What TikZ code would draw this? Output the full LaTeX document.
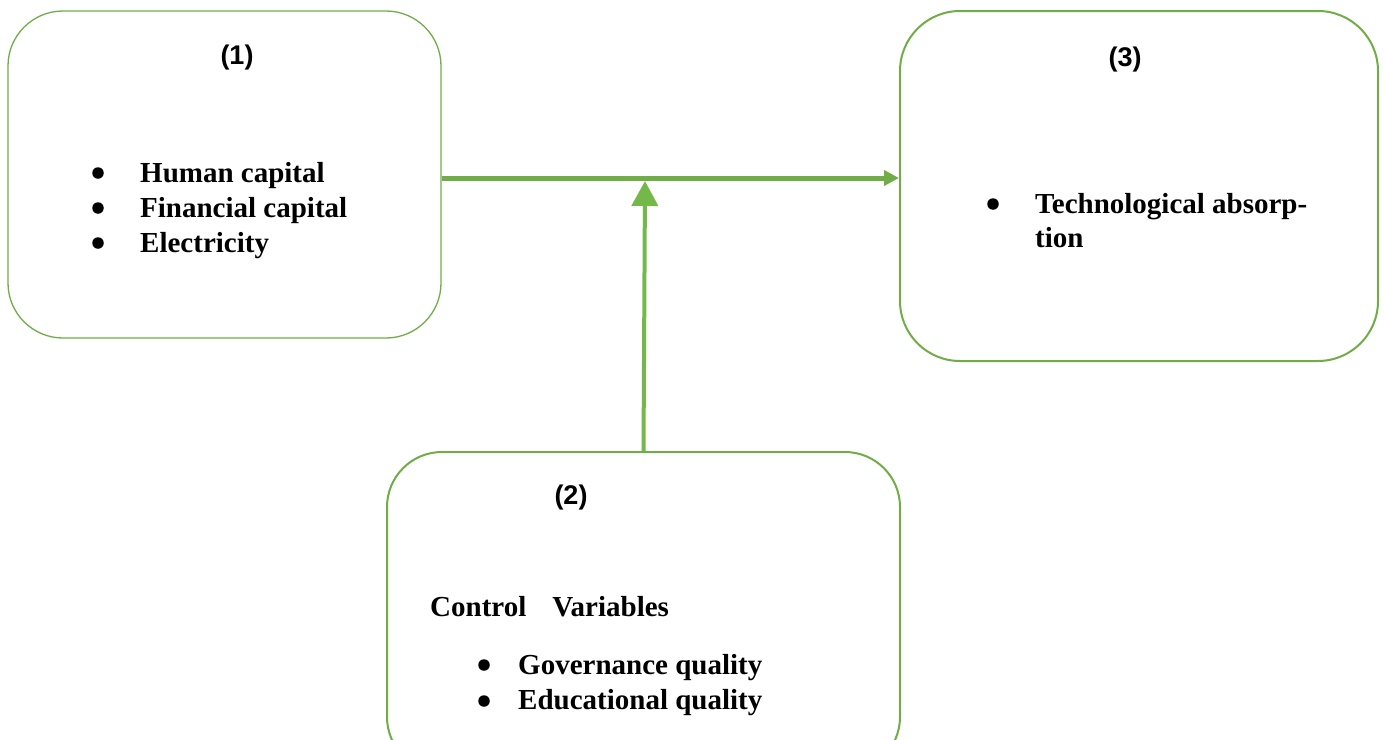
\documentclass[tikz,border=0pt]{standalone}
\usepackage{fontspec}
\setmainfont{Liberation Serif}
\newfontfamily\arialfont{Liberation Sans}
\usetikzlibrary{arrows.meta}
\definecolor{gr}{HTML}{70AD47}
\definecolor{grlight}{HTML}{74B84A}
\tikzset{
  box/.style={draw=gr, rounded corners=55pt, inner sep=0pt},
  lbl/.style={font=\arialfont\bfseries\fontsize{27}{30}\selectfont, anchor=base},
  txt/.style={font=\bfseries\fontsize{29}{35}\selectfont, anchor=base west, inner sep=0pt},
  bul/.style={circle, fill=black, inner sep=0pt, minimum size=11.5pt},
  arr/.style={draw=gr, line width=5pt},
}
\begin{document}
\begin{tikzpicture}[x=1pt,y=-1pt]
\useasboundingbox (0,0) rectangle (1386,739);
\clip (0,0) rectangle (1386,739);
\node[box, line width=1.3pt, minimum width=433pt, minimum height=327pt] (b1) at (224.5,174.5) {};
\node[box, line width=2pt, rounded corners=60pt, minimum width=478pt, minimum height=350pt] (b3) at (1139,186) {};
\node[box, line width=2pt, minimum width=513pt, minimum height=320pt] (b2) at (643.5,612) {};
% labels
\node[lbl] (l1) at (237,64) {(1)};
\node[lbl] (l3) at (1125,66) {(3)};
\node[lbl] (l2) at (571,504) {(2)};
% box 1
\node[bul] (p1) at (98,173) {};
\node[bul] (p2) at (98,208) {};
\node[bul] (p3) at (98,243) {};
\node[txt] (t1) at (140,182) {Human capital};
\node[txt] (t2) at (140,217) {Financial capital};
\node[txt] (t3) at (140,252) {Electricity};
% box 3
\node[bul] (p4) at (993,204) {};
\node[txt] (t4) at (1035,213) {Technological absorp-};
\node[txt] (t5) at (1035,247) {tion};
% box 2
\node[txt] (t6) at (430,616) {Control\hspace{0.9em}Variables};
\node[bul] (p5) at (484,665) {};
\node[bul] (p6) at (484,701) {};
\node[txt] (t7) at (518,674) {Governance quality};
\node[txt] (t8) at (518,709) {Educational quality};
% connectors
\coordinate (j) at (645,181);
\draw[arr, -{Triangle[length=15pt,width=15pt]}] (b1.east|-645,178) -- (b3.west|-645,178);
\draw[arr, draw=grlight, line width=4pt, -{Triangle[length=25pt,width=26pt]}] (b2.north) -- (j);
\end{tikzpicture}
\end{document}
